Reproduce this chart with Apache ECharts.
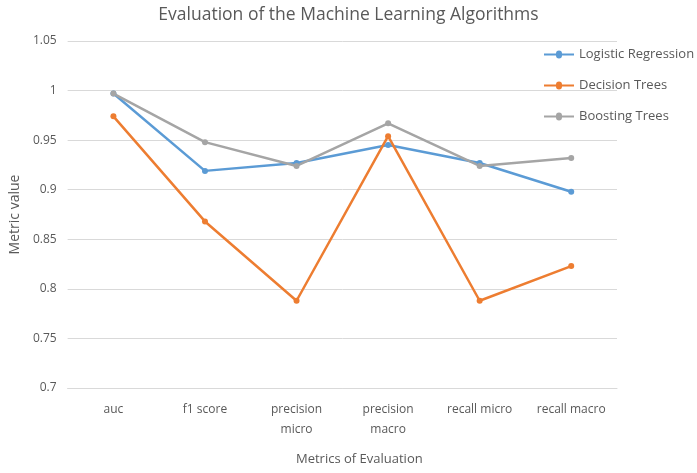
<!DOCTYPE html>
<html><head><meta charset="utf-8">
<script src="https://cdn.jsdelivr.net/npm/echarts@6/dist/echarts.min.js"></script>
<style>html,body{margin:0;padding:0;background:#fff}#c{width:697px;height:473px}</style>
</head><body><div id="c"></div>
<script>
const categories = ['auc', 'f1 score', 'precision micro', 'precision macro', 'recall micro', 'recall macro'];
const logisticRegression = [0.997, 0.919, 0.927, 0.945, 0.927, 0.898];
const decisionTrees = [0.974, 0.868, 0.788, 0.954, 0.788, 0.823];
const boostingTrees = [0.997, 0.948, 0.924, 0.967, 0.924, 0.932];
const seriesNames = ['Logistic Regression', 'Decision Trees', 'Boosting Trees'];
const colors = ['#5B9BD5', '#ED7D31', '#A5A5A5'];
const FONT = '"Open Sans", sans-serif';
const chart = echarts.init(document.getElementById('c'));
const mk = (name, data, color) => ({
  name, type: 'line', data, color,
  symbol: 'circle', symbolSize: 6,
  lineStyle: { width: 2.5, color }, itemStyle: { color },
  emphasis: { disabled: true }
});
chart.setOption({
  animation: false,
  title: { text: 'Evaluation of the Machine Learning Algorithms', left: 'center', top: 1,
    textStyle: { fontFamily: FONT, fontSize: 17.5, fontWeight: 'normal', color: '#595959' } },
  legend: { orient: 'vertical', left: 539, top: 43, itemGap: 18, itemWidth: 30, itemHeight: 17,
    textStyle: { fontFamily: FONT, fontSize: 13, color: '#595959' },
    itemStyle: { borderWidth: 0 },
    data: seriesNames.map(n => ({ name: n, icon: 'path://M0,7.5 L12,7.5 A2.5,2.5 0 1 1 18,7.5 L30,7.5 L30,9.5 L18,9.5 A2.5,2.5 0 1 1 12,9.5 L0,9.5 Z' })) },
  grid: { left: 65, right: 80, top: 41, bottom: 85 },
  xAxis: { type: 'category', data: categories, boundaryGap: true,
    axisLine: { lineStyle: { color: '#D9D9D9', width: 1 } }, axisTick: { show: false },
    axisLabel: { fontFamily: FONT, fontSize: 12, color: '#595959', margin: 12, interval: 0, lineHeight: 20,
      formatter: v => v.startsWith('precision') ? v.replace(' ', '\n') : v },
    name: 'Metrics of Evaluation', nameLocation: 'middle', nameGap: 65,
    nameTextStyle: { fontFamily: FONT, fontSize: 13, color: '#595959', padding: [0, 0, 0, 34] } },
  yAxis: { type: 'value', min: 0.7, max: 1.05, interval: 0.05,
    axisLine: { show: false }, axisTick: { show: false },
    splitLine: { lineStyle: { color: '#D9D9D9', width: 1 } },
    axisLabel: { fontFamily: FONT, fontSize: 12, color: '#595959', margin: 11,
      formatter: v => String(parseFloat(v.toFixed(2))) },
    name: 'Metric value', nameLocation: 'middle', nameGap: 40, nameRotate: 90,
    nameTextStyle: { fontFamily: FONT, fontSize: 14, color: '#595959' } },
  series: [
    mk(seriesNames[0], logisticRegression, colors[0]),
    mk(seriesNames[1], decisionTrees, colors[1]),
    mk(seriesNames[2], boostingTrees, colors[2])
  ]
});
</script></body></html>
